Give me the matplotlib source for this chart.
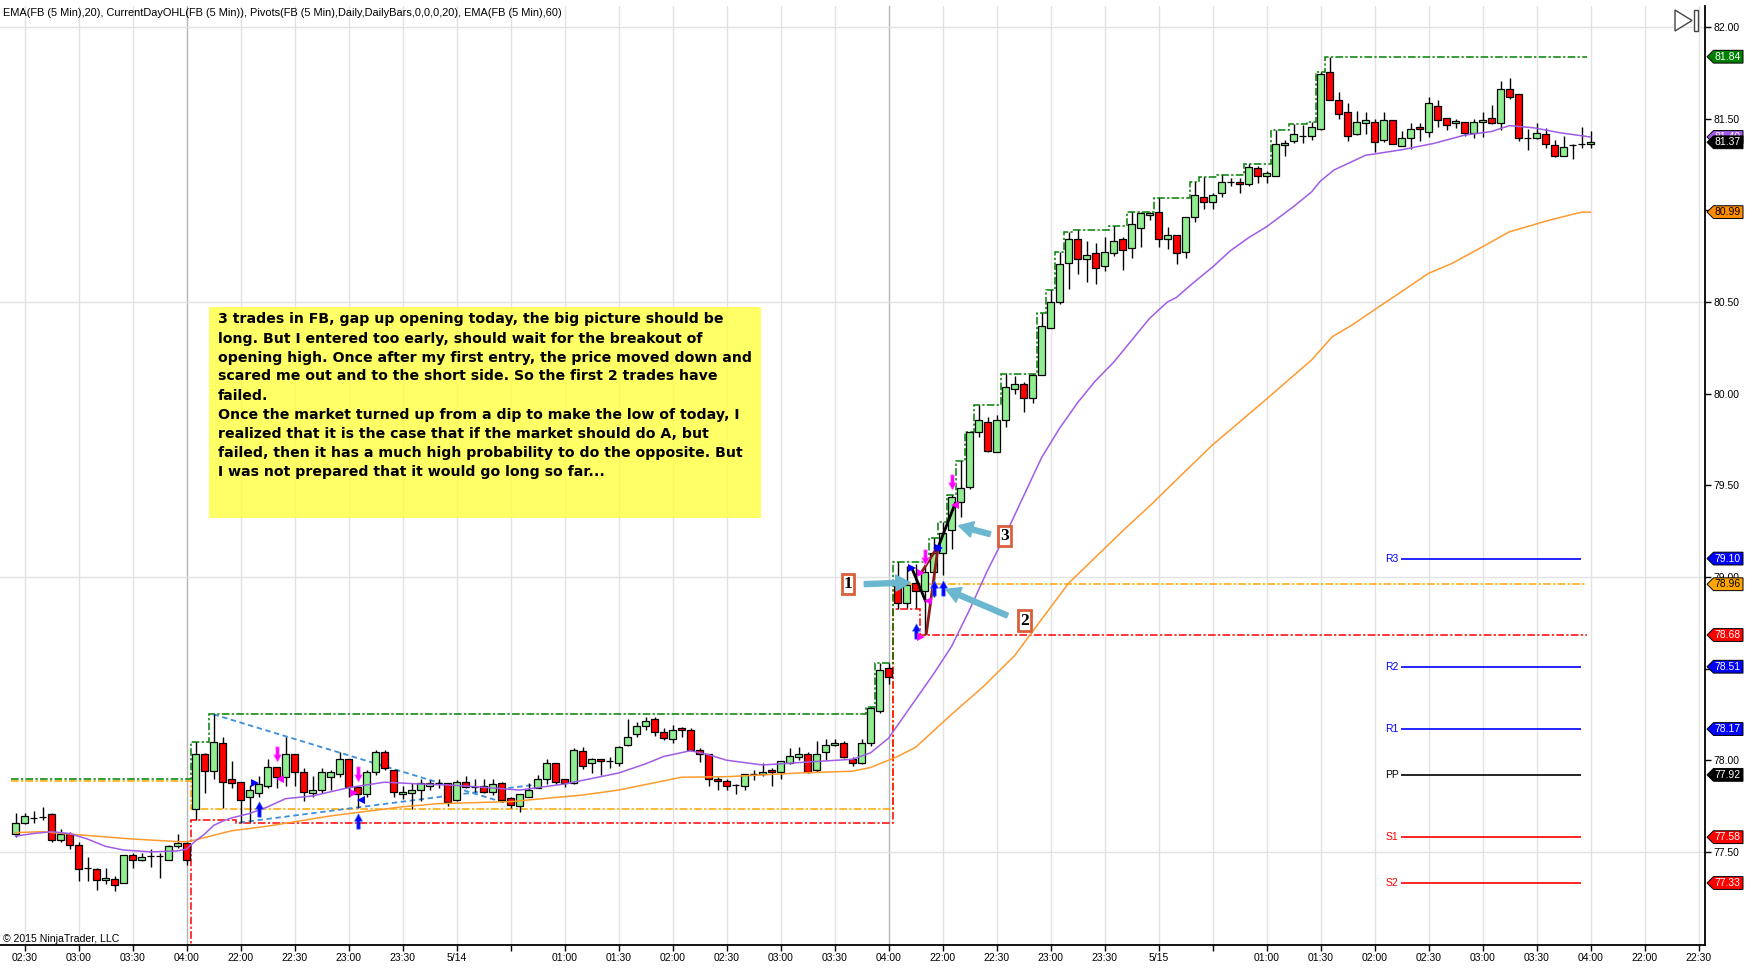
import matplotlib
matplotlib.use('Agg')
import matplotlib.pyplot as plt
import numpy as np
from matplotlib import transforms
from matplotlib.patches import FancyArrowPatch, Polygon, Rectangle
from matplotlib.path import Path

plt.rcParams['font.family'] = ['Liberation Sans', 'DejaVu Sans']

W, H = 1752, 969
PX_PER_UNIT = 183.3  # vertical pixels per dollar

# FB 5 min bars. index 0 = 02:25 (end of previous session),
# 20 = 21:35 (session of 5/14), 98 = 21:35 (session of 5/15)
opens = [
    77.60, 77.657, 77.685, 77.69, 77.706, 77.564, 77.597, 77.54, 77.41, 77.405,
    77.345, 77.35, 77.33, 77.485, 77.457, 77.475, 77.475, 77.457, 77.533, 77.55,
    77.732, 78.032, 77.943, 78.092, 77.896, 77.883, 77.80, 77.823, 77.861, 77.961,
    77.91, 78.032, 77.934, 77.823, 77.836, 77.91, 77.923, 78.007, 77.852, 77.814,
    77.934, 78.043, 77.947, 77.814, 77.823, 77.836, 77.861, 77.874, 77.874, 77.783,
    77.883, 77.855, 77.861, 77.825, 77.874, 77.792, 77.752, 77.80, 77.85, 77.90,
    77.983, 77.896, 77.874, 78.05, 77.983, 78.007, 77.997, 77.983, 78.083, 78.143,
    78.186, 78.223, 78.152, 78.114, 78.174, 78.165, 78.056, 78.032, 77.90, 77.886,
    77.865, 77.861, 77.923, 77.923, 77.947, 77.934, 77.983, 78.02, 78.032, 77.947,
    78.043, 78.083, 78.092, 78.007, 77.983, 78.092, 78.27, 78.501,
    78.96, 78.859, 78.965, 78.923, 79.028, 79.132, 79.256, 79.41, 79.493, 79.79,
    79.843, 79.683, 79.856, 80.025, 80.05, 79.974, 80.10, 80.36, 80.50, 80.71,
    80.842, 80.733, 80.765, 80.696, 80.765, 80.842, 80.793, 80.902, 80.973, 80.992,
    80.842, 80.864, 80.771, 80.962, 81.071, 81.044, 81.093, 81.153, 81.153, 81.142,
    81.232, 81.189, 81.189, 81.356, 81.38, 81.405, 81.405, 81.442, 81.753, 81.602,
    81.535, 81.415, 81.475, 81.48, 81.383, 81.493, 81.353, 81.393, 81.453, 81.429,
    81.57, 81.502, 81.475, 81.48, 81.42, 81.48, 81.502, 81.475, 81.66, 81.633,
    81.393, 81.393, 81.415, 81.356, 81.298, 81.356, 81.36, 81.36,
]
highs = [
    77.71, 77.712, 77.723, 77.745, 77.71, 77.625, 77.61, 77.556, 77.47, 77.41,
    77.41, 77.37, 77.485, 77.495, 77.495, 77.515, 77.495, 77.54, 77.595, 77.555,
    78.10, 78.04, 78.252, 78.128, 77.996, 77.883, 77.865, 77.914, 78.007, 77.961,
    78.128, 78.032, 77.959, 77.914, 77.959, 77.947, 78.043, 78.007, 77.852, 77.947,
    78.056, 78.056, 77.947, 77.861, 77.874, 77.896, 77.892, 77.90, 77.874, 77.89,
    77.914, 77.90, 77.90, 77.90, 77.883, 77.80, 77.814, 77.874, 77.92, 78.007,
    77.983, 77.90, 78.065, 78.07, 78.014, 78.007, 78.02, 78.08, 78.223, 78.21,
    78.237, 78.234, 78.174, 78.19, 78.183, 78.174, 78.065, 78.032, 77.91, 77.90,
    77.87, 77.923, 77.947, 77.983, 77.956, 77.996, 78.065, 78.07, 78.043, 78.107,
    78.116, 78.116, 78.104, 78.02, 78.116, 78.292, 78.532, 78.532,
    79.083, 79.06, 79.07, 79.065, 79.21, 79.30, 79.447, 79.63, 79.79, 79.94,
    79.87, 79.883, 80.105, 80.096, 80.065, 80.105, 80.44, 80.565, 80.774, 80.883,
    80.89, 80.83, 80.82, 80.853, 80.914, 80.856, 80.992, 80.99, 80.99, 81.065,
    80.91, 80.864, 80.962, 81.153, 81.183, 81.093, 81.193, 81.175, 81.175, 81.25,
    81.243, 81.214, 81.438, 81.383, 81.47, 81.465, 81.483, 81.756, 81.838, 81.644,
    81.584, 81.542, 81.535, 81.50, 81.535, 81.493, 81.434, 81.478, 81.478, 81.617,
    81.60, 81.505, 81.50, 81.48, 81.50, 81.535, 81.574, 81.705, 81.72, 81.633,
    81.442, 81.475, 81.45, 81.383, 81.405, 81.36, 81.453, 81.433,
]
lows = [
    77.58, 77.65, 77.657, 77.675, 77.553, 77.553, 77.516, 77.34, 77.34, 77.29,
    77.325, 77.287, 77.33, 77.41, 77.45, 77.42, 77.36, 77.457, 77.52, 77.43,
    77.672, 77.823, 77.896, 77.741, 77.85, 77.66, 77.665, 77.80, 77.85, 77.85,
    77.861, 77.861, 77.779, 77.80, 77.823, 77.836, 77.91, 77.80, 77.741, 77.80,
    77.92, 77.947, 77.80, 77.79, 77.732, 77.779, 77.84, 77.846, 77.752, 77.78,
    77.85, 77.828, 77.82, 77.81, 77.77, 77.74, 77.72, 77.80, 77.85, 77.87,
    77.87, 77.852, 77.87, 77.952, 77.932, 77.92, 77.956, 77.97, 78.08, 78.128,
    78.165, 78.134, 78.11, 78.092, 78.128, 78.052, 77.992, 77.86, 77.84, 77.837,
    77.814, 77.837, 77.89, 77.914, 77.861, 77.90, 77.98, 78.00, 77.93, 77.934,
    78.00, 78.077, 78.01, 77.97, 77.98, 78.077, 78.26, 78.414,
    78.823, 78.828, 78.83, 78.683, 78.892, 79.01, 79.15, 79.325, 79.48, 79.762,
    79.683, 79.68, 79.82, 80.0, 79.90, 79.95, 80.10, 80.36, 80.49, 80.57,
    80.653, 80.61, 80.60, 80.67, 80.75, 80.674, 80.741, 80.80, 80.947, 80.80,
    80.789, 80.707, 80.741, 80.935, 81.005, 81.005, 81.07, 81.13, 81.093, 81.13,
    81.15, 81.15, 81.189, 81.298, 81.369, 81.369, 81.383, 81.44, 81.60, 81.498,
    81.38, 81.41, 81.415, 81.32, 81.371, 81.36, 81.35, 81.333, 81.38, 81.40,
    81.453, 81.438, 81.45, 81.407, 81.393, 81.40, 81.47, 81.438, 81.607, 81.38,
    81.33, 81.39, 81.342, 81.29, 81.298, 81.28, 81.342, 81.342,
]
closes = [
    77.66, 77.696, 77.685, 77.69, 77.564, 77.597, 77.537, 77.405, 77.41, 77.345,
    77.36, 77.32, 77.485, 77.457, 77.47, 77.475, 77.475, 77.533, 77.55, 77.457,
    78.032, 77.943, 78.101, 77.883, 77.874, 77.781, 77.835, 77.872, 77.961, 77.91,
    78.032, 77.934, 77.825, 77.836, 77.934, 77.934, 78.007, 77.852, 77.814, 77.934,
    78.043, 77.959, 77.825, 77.825, 77.836, 77.874, 77.874, 77.874, 77.77, 77.883,
    77.852, 77.855, 77.828, 77.87, 77.783, 77.755, 77.814, 77.84, 77.896, 77.983,
    77.883, 77.874, 78.056, 77.97, 78.007, 77.996, 77.997, 78.07, 78.128, 78.188,
    78.214, 78.152, 78.123, 78.165, 78.163, 78.056, 78.032, 77.90, 77.886, 77.861,
    77.865, 77.923, 77.923, 77.934, 77.934, 77.996, 78.023, 78.032, 77.934, 78.032,
    78.083, 78.092, 78.02, 77.983, 78.092, 78.283, 78.492, 78.452,
    78.859, 78.956, 78.923, 79.028, 79.132, 79.241, 79.435, 79.483, 79.79, 79.856,
    79.689, 79.856, 80.034, 80.05, 79.974, 80.10, 80.37, 80.50, 80.705, 80.842,
    80.733, 80.756, 80.684, 80.77, 80.832, 80.782, 80.925, 80.984, 80.984, 80.842,
    80.864, 80.765, 80.962, 81.082, 81.044, 81.082, 81.153, 81.153, 81.142, 81.238,
    81.189, 81.202, 81.36, 81.369, 81.415, 81.405, 81.452, 81.744, 81.602, 81.525,
    81.405, 81.48, 81.493, 81.371, 81.493, 81.36, 81.393, 81.444, 81.442, 81.584,
    81.493, 81.465, 81.489, 81.42, 81.48, 81.493, 81.475, 81.66, 81.62, 81.393,
    81.393, 81.42, 81.36, 81.296, 81.344, 81.356, 81.36, 81.371,
]

session_first_bar = [0, 20, 98]
session_last_bar = [19, 97, 175]
# previous session open/high/low (its low is below the visible range)
prev_open, prev_high, prev_low = 77.885, 77.896, 76.90

# EMA(20) and EMA(60)
ema20_x = [0, 2, 4, 6, 8, 10, 12, 15, 18, 19, 20, 21, 22, 23, 24, 26, 28, 30, 33, 37,
           41, 45, 48, 51, 56, 61, 64, 67, 70, 72, 75, 77, 79, 83, 88, 93, 95, 96, 97, 98,
           100, 102, 104, 106, 108, 110, 112, 114, 116, 118, 120, 122, 124, 126, 128, 129, 131, 133, 135, 137,
           139, 142, 144, 145, 146.5, 150, 154, 157.6, 161, 164, 166, 168.7, 171.6, 175]
ema20_y = [77.586, 77.60, 77.61, 77.60, 77.57, 77.53, 77.51, 77.50, 77.505, 77.515,
           77.56, 77.596, 77.644, 77.667, 77.685, 77.709, 77.745, 77.79, 77.805, 77.85,
           77.88, 77.87, 77.865, 77.856, 77.837, 77.87, 77.90, 77.93, 77.98, 78.02,
           78.052, 78.03, 78.0, 77.974, 77.99, 78.005, 78.04, 78.08, 78.12, 78.19,
           78.33, 78.47, 78.62, 78.82, 79.035, 79.23, 79.44, 79.65, 79.81, 79.95,
           80.07, 80.17, 80.29, 80.41, 80.50, 80.525, 80.61, 80.69, 80.78, 80.85,
           80.91, 81.02, 81.10, 81.16, 81.22, 81.30, 81.33, 81.365, 81.41, 81.43,
           81.462, 81.45, 81.423, 81.40]
ema60_x = [0, 3, 7, 13, 18, 19, 20, 22, 24, 28, 35, 43, 47, 55, 63, 67, 74, 79, 87, 93,
           95, 97, 98, 100, 104, 107.5, 111, 117, 123, 126.3, 129, 133, 136.7, 139.3, 144, 146.3, 148.5, 151.5, 154, 157,
           159.6, 162, 166, 170.5, 174, 175]
ema60_y = [77.605, 77.61, 77.593, 77.57, 77.556, 77.555, 77.565, 77.59, 77.615, 77.64,
           77.696, 77.746, 77.763, 77.774, 77.81, 77.837, 77.907, 77.91, 77.93, 77.94,
           77.96, 78.0, 78.02, 78.07, 78.25, 78.40, 78.57, 78.965, 79.25, 79.40,
           79.53, 79.72, 79.874, 79.983, 80.183, 80.31, 80.374, 80.474, 80.556, 80.656,
           80.71, 80.774, 80.883, 80.947, 80.99, 80.99]

pivot_names = ['R3', 'R2', 'R1', 'PP', 'S1', 'S2']
pivot_levels = [79.10, 78.51, 78.17, 77.92, 77.58, 77.33]
pivot_colors = ['#0000ff', '#0000ff', '#0000ff', 'black', '#ff0000', '#ff0000']

tick_bars = [1, 7, 13, 19, 25, 31, 37, 43, 49, 55, 61, 67, 73, 79, 85, 91, 97,
             103, 109, 115, 121, 127, 133, 139, 145, 151, 157, 163, 169, 175, 181, 187]
tick_labels = ['02:30', '03:00', '03:30', '04:00', '22:00', '22:30', '23:00', '23:30', '5/14', '',
               '01:00', '01:30', '02:00', '02:30', '03:00', '03:30', '04:00',
               '22:00', '22:30', '23:00', '23:30', '5/15', '', '01:00', '01:30', '02:00',
               '02:30', '03:00', '03:30', '04:00', '22:00', '22:30']
session_break_bars = [19, 97]
price_ticks = [77.5, 78.0, 78.5, 79.0, 79.5, 80.0, 80.5, 81.0, 81.5, 82.0]
price_grid = [77.5, 79.0, 80.5, 82.0]

note_lines = [
    '3 trades in FB, gap up opening today, the big picture should be',
    'long. But I entered too early, should wait for the breakout of',
    'opening high. Once after my first entry, the price moved down and',
    'scared me out and to the short side. So the first 2 trades have',
    'failed.',
    'Once the market turned up from a dip to make the low of today, I',
    'realized that it is the case that if the market should do A, but',
    'failed, then it has a much high probability to do the opposite. But',
    'I was not prepared that it would go long so far...',
]

# trade markers: (bar, price)
buy_arrows = [(27, 77.732), (38, 77.671), (100, 78.705), (102, 78.937), (103, 78.937)]
sell_arrows = [(29, 78.032), (38, 77.927), (101, 79.106), (104, 79.52)]
blue_right = [(26.6, 77.874), (99.6, 79.047), (102.6, 79.16)]
blue_left = [(38.4, 77.783), (102.4, 79.16)]
magenta_right = [(37.6, 77.822), (100.6, 79.02), (100.6, 78.67)]
magenta_left = [(29.35, 77.896), (101.4, 78.87), (104.4, 79.39)]
trade_lines = [((99.6, 79.047), (101.1, 78.87), 'black'),
               ((101.2, 78.69), (102.5, 79.16), '#8b1a1a'),
               ((100.6, 79.02), (102.4, 79.16), '#8b1a1a'),
               ((102.5, 79.16), (104.4, 79.40), 'black')]
wedge_lines = [((22, 78.25), (54.9, 77.76)), ((24.9, 77.66), (57.5, 77.865))]
callouts = [('1', (92.5, 78.96), (94.0, 78.96), (99.7, 78.97)),
            ('2', (112.1, 78.762), (110.5, 78.783), (103.1, 78.938)),
            ('3', (109.9, 79.221), (108.6, 79.229), (104.5, 79.283))]


def main():
    fig = plt.figure(figsize=(W / 100, H / 100), dpi=100)
    ax = fig.add_axes([0, 24 / H, 1705 / W, (963 - 24) / H])
    n = len(closes)
    x = np.arange(n)
    o = np.array(opens); hi = np.array(highs); lo = np.array(lows); c = np.array(closes)

    ax.set_xlim(-15.5 / 9, (1705 - 15.5) / 9)
    ax.set_ylim(82 - 918 / PX_PER_UNIT, 82 + 21 / PX_PER_UNIT)

    # grid
    for b in tick_bars:
        col = '#b4b4b4' if b in session_break_bars else '#e2e2e2'
        ax.axvline(b, color=col, lw=1.0, zorder=0.5)
    for p in price_grid:
        ax.axhline(p, color='#e2e2e2', lw=1.0, zorder=0.5)

    # note box
    bx0, bx1 = 21.5, 82.8
    by0, by1 = 79.321, 80.474
    ax.add_patch(Rectangle((bx0, by0), bx1 - bx0, by1 - by0, facecolor='#ffff40',
                           alpha=0.8, edgecolor='none', zorder=1))
    line_step = 19 / PX_PER_UNIT
    y0 = 82 - (319.5 - 27) / PX_PER_UNIT
    for k, s in enumerate(note_lines):
        ax.text(22.5, y0 - k * line_step, s, fontsize=10.2, fontweight='bold',
                family='DejaVu Sans', color='black', va='center', ha='left', zorder=1.5)

    # current day open/high/low step lines
    opn = np.zeros(n); dh = np.zeros(n); dl = np.zeros(n)
    for s, e in zip(session_first_bar, session_last_bar):
        if s == 0:
            opn[s:e + 1] = prev_open
            dh[s:e + 1] = prev_high
            dl[s:e + 1] = prev_low
        else:
            opn[s:e + 1] = o[s]
            dh[s:e + 1] = np.maximum.accumulate(hi[s:e + 1])
            dl[s:e + 1] = np.minimum.accumulate(lo[s:e + 1])
    edges = np.arange(n + 1) - 0.5
    edges[-1] = 174.6
    dash = (0, (5, 1.5, 1.5, 1.5))
    ax.stairs(opn, edges, baseline=None, color='#ffa500', lw=1.1, linestyle=dash, zorder=2)
    ax.stairs(dl, edges, baseline=None, color='#ff0000', lw=1.1, linestyle=dash, zorder=2)
    ax.stairs(dh, edges, baseline=None, color='#008000', lw=1.1, linestyle=dash, zorder=2)

    # pivots
    for name, lvl, col in zip(pivot_names, pivot_levels, pivot_colors):
        ax.hlines(lvl, 153.9, 173.9, colors=col, lw=1.2, zorder=2)
        ax.text(153.7, lvl, name, color=col, fontsize=7.5, ha='right', va='center', zorder=2)

    # wedge lines
    for (xa, ya), (xb, yb) in wedge_lines:
        ax.plot([xa, xb], [ya, yb], color='#3d8fdb', lw=1.3, linestyle=(0, (3, 2)), zorder=3.5)

    # candles
    up = c >= o
    ax.vlines(x, lo, hi, color='black', lw=1.0, zorder=4)
    body_lo = np.minimum(o, c)
    body_h = np.abs(c - o)
    ax.bar(x[up], body_h[up], bottom=body_lo[up], width=0.7, color='#90ee90',
           edgecolor='black', lw=0.9, zorder=4.5)
    ax.bar(x[~up], body_h[~up], bottom=body_lo[~up], width=0.7, color='#ff0000',
           edgecolor='black', lw=0.9, zorder=4.5)

    # EMAs
    ax.plot(ema60_x, ema60_y, color='#ff9a2e', lw=1.1, zorder=5)
    ax.plot(ema20_x, ema20_y, color='#a05ce8', lw=1.1, zorder=5)

    # trades
    for (xa, ya), (xb, yb), col in trade_lines:
        ax.plot([xa, xb], [ya, yb], color=col, lw=2.0, zorder=6)
    up_arrow = Path([(-0.11, -0.5), (0.11, -0.5), (0.11, 0.02), (0.26, 0.02), (0.0, 0.5),
                     (-0.26, 0.02), (-0.11, 0.02), (-0.11, -0.5)], closed=True)
    down_arrow = Path([(vx, -vy) for vx, vy in up_arrow.vertices], closed=True)
    for bx, by in buy_arrows:
        ax.plot(bx, by, marker=up_arrow, ms=11, color='#0000ff', mec='#4a6cff', mew=0.5, zorder=7)
    for bx, by in sell_arrows:
        ax.plot(bx, by, marker=down_arrow, ms=11, color='#ff00ff', mec='#ff8cff', mew=0.5, zorder=7)
    for pts, m, col in [(blue_right, '>', '#0000ff'), (blue_left, '<', '#0000ff'),
                        (magenta_right, '>', '#ff00ff'), (magenta_left, '<', '#ff00ff')]:
        ax.plot([p[0] for p in pts], [p[1] for p in pts], linestyle='none', marker=m,
                ms=5.5, color=col, mew=0, zorder=7)

    # numbered call-outs
    for label, (tx, ty), tail, head in callouts:
        ax.add_patch(FancyArrowPatch(tail, head, mutation_scale=12, color='#6ab7cf',
                                     arrowstyle='simple,head_length=0.85,head_width=0.95,tail_width=0.3',
                                     zorder=8))
        ax.text(tx, ty, label, fontsize=12.5, fontweight='bold', family='Liberation Serif',
                ha='center', va='center', zorder=9,
                bbox=dict(boxstyle='square,pad=0.12', facecolor='white', edgecolor='#d9603b', lw=2))

    # axes styling
    for side in ['left', 'top']:
        ax.spines[side].set_visible(False)
    ax.spines['right'].set_linewidth(1.3)
    ax.spines['bottom'].set_linewidth(1.3)
    ax.yaxis.tick_right()
    ax.set_yticks(price_ticks)
    ax.set_yticklabels([f'{p:.2f}' for p in price_ticks])
    ax.set_xticks(tick_bars)
    ax.set_xticklabels(tick_labels)
    ax.tick_params(axis='both', direction='out', length=4, width=1, labelsize=7.5, pad=2)

    # value boxes on the price axis
    trans = transforms.blended_transform_factory(fig.transFigure, ax.transData)
    hh = 6.4 / PX_PER_UNIT
    xt, xl, xr = 1707 / W, 1713.5 / W, 1743 / W
    last_close = closes[-1]
    boxes = [(dh[-1], '#008000', 'white'), (ema20_y[-1], '#a05ce8', 'white'),
             (last_close, 'black', 'white'), (ema60_y[-1], '#ff8c00', 'black'),
             (pivot_levels[0], '#0000ff', 'white'), (opn[-1], '#ffa500', 'black'),
             (dl[-1], '#ff0000', 'white'), (pivot_levels[1], '#0000ff', 'white'),
             (pivot_levels[2], '#0000ff', 'white'), (pivot_levels[3], 'black', 'white'),
             (pivot_levels[4], '#ff0000', 'white'), (pivot_levels[5], '#ff0000', 'white')]
    for k, (val, face, tcol) in enumerate(boxes):
        poly = Polygon([(xt, val), (xl, val + hh), (xr, val + hh), (xr, val - hh), (xl, val - hh)],
                       closed=True, transform=trans, facecolor=face, edgecolor='black',
                       lw=0.7, zorder=10 + k)
        fig.add_artist(poly)
        fig.text((xl + xr) / 2 - 1 / W, val, f'{val:.2f}', transform=trans, color=tcol,
                 fontsize=7.5, ha='center', va='center', zorder=10 + k)

    fig.text(3 / W, 1 - 12.5 / H,
             'EMA(FB (5 Min),20), CurrentDayOHL(FB (5 Min)), Pivots(FB (5 Min),Daily,DailyBars,0,0,0,20), EMA(FB (5 Min),60)',
             fontsize=7.9, ha='left', va='center')
    fig.text(3 / W, 1 - 939.5 / H, '\u00a9 2015 NinjaTrader, LLC', fontsize=7.6, ha='left', va='center')

    # "jump to end" icon
    fig.add_artist(Polygon([(1675 / W, 1 - 10 / H), (1675 / W, 1 - 31 / H), (1692 / W, 1 - 20.5 / H)],
                           closed=True, transform=fig.transFigure, facecolor='white',
                           edgecolor='#444444', lw=1))
    fig.add_artist(Rectangle((1694 / W, 1 - 31 / H), 4 / W, 21 / H, transform=fig.transFigure,
                             facecolor='white', edgecolor='#444444', lw=1))

    fig.savefig('out.png', dpi=100)


if __name__ == '__main__':
    main()
